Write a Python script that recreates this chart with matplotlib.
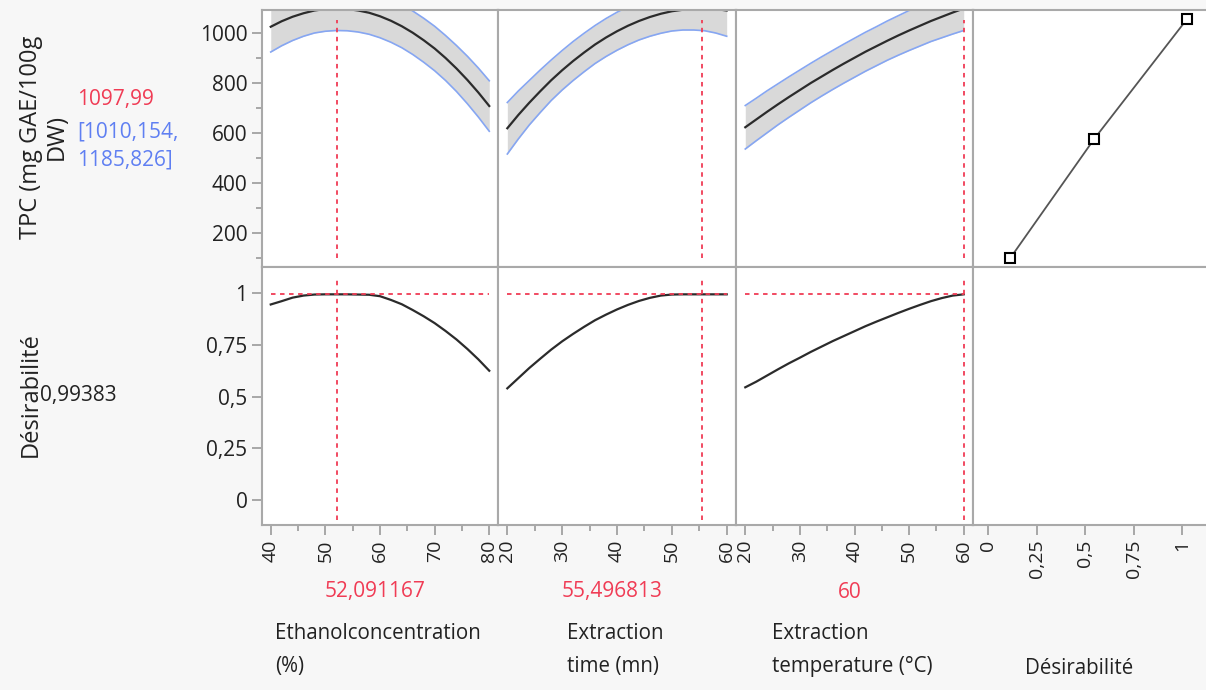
import matplotlib
matplotlib.use("Agg")
import matplotlib.pyplot as plt
from matplotlib.ticker import FixedLocator, FixedFormatter

plt.rcParams['font.family'] = ['Open Sans', 'DejaVu Sans']

eth_x = [40, 42, 44, 46, 48, 50, 52, 54, 56, 58, 60, 62, 64, 66, 68, 70, 72, 74, 76, 78, 80]
eth_tpc = [1025, 1047, 1065, 1079, 1090, 1096, 1098, 1096, 1090, 1081, 1067, 1049, 1027, 1001, 971, 938, 900, 858, 812, 762, 708]
eth_lo = [924, 949, 970, 987, 1000, 1007, 1010, 1009, 1004, 995, 981, 963, 941, 914, 883, 849, 810, 766, 717, 664, 607]
eth_hi = [1126, 1145, 1160, 1171, 1180, 1185, 1186, 1183, 1177, 1167, 1153, 1135, 1114, 1088, 1059, 1027, 990, 950, 907, 860, 809]
eth_des = [0.945, 0.961, 0.978, 0.988, 0.993, 0.994, 0.994, 0.994, 0.993, 0.992, 0.985, 0.967, 0.946, 0.918, 0.888, 0.855, 0.817, 0.776, 0.730, 0.680, 0.625]

time_x = [20, 22, 24, 26, 28, 30, 32, 34, 36, 38, 40, 42, 44, 46, 48, 50, 52, 54, 56, 58, 60]
time_tpc = [619, 672, 721, 767, 811, 851, 888, 922, 954, 982, 1007, 1029, 1048, 1064, 1077, 1087, 1093, 1097, 1098, 1096, 1090]
time_lo = [516, 576, 632, 682, 730, 772, 810, 845, 878, 906, 931, 953, 972, 987, 999, 1008, 1012, 1012, 1009, 1000, 987]
time_hi = [722, 768, 810, 852, 892, 930, 966, 999, 1030, 1058, 1083, 1105, 1124, 1141, 1155, 1166, 1174, 1182, 1187, 1192, 1193]
time_des = [0.540, 0.589, 0.638, 0.683, 0.727, 0.767, 0.803, 0.837, 0.869, 0.896, 0.921, 0.943, 0.962, 0.977, 0.988, 0.993, 0.994, 0.994, 0.994, 0.994, 0.994]

temp_x = [20, 22, 24, 26, 28, 30, 32, 34, 36, 38, 40, 42, 44, 46, 48, 50, 52, 54, 56, 58, 60]
temp_tpc = [623, 654, 685, 715, 744, 772, 800, 826, 852, 877, 901, 925, 947, 969, 990, 1010, 1029, 1048, 1065, 1082, 1098]
temp_lo = [536, 569, 601, 633, 663, 692, 721, 748, 774, 799, 823, 847, 869, 891, 911, 930, 948, 966, 981, 996, 1010]
temp_hi = [710, 739, 769, 797, 825, 852, 879, 905, 930, 955, 979, 1003, 1025, 1048, 1069, 1090, 1110, 1130, 1149, 1168, 1186]
temp_des = [0.545, 0.572, 0.602, 0.632, 0.661, 0.688, 0.716, 0.742, 0.768, 0.792, 0.816, 0.840, 0.862, 0.883, 0.904, 0.924, 0.943, 0.961, 0.976, 0.988, 0.994]

# desirability function (right column)
dfun_d = [0.112, 0.546, 1.025]
dfun_tpc = [99, 576, 1055]

# current settings
cur_x = [52.091167, 55.496813, 60]
cur_labels = ['52,091167', '55,496813', '60']
cur_des = 0.99383

factor_names = ['Ethanolconcentration\n(%)', 'Extraction\ntime (mn)', 'Extraction\ntemperature (°C)', 'Désirabilité']
xlims = [(38.4, 81.6), (18.3, 61.7), (18.3, 61.7), (-0.08, 1.16)]
xmajor = [[40, 50, 60, 70, 80], [20, 30, 40, 50, 60], [20, 30, 40, 50, 60], [0, 0.25, 0.5, 0.75, 1]]
xmajor_lbl = [['40', '50', '60', '70', '80'], ['20', '30', '40', '50', '60'],
              ['20', '30', '40', '50', '60'], ['0', '0,25', '0,5', '0,75', '1']]
xminor = [[45, 55, 65, 75], [25, 35, 45, 55], [25, 35, 45, 55], []]

tpc_ticks = [200, 400, 600, 800, 1000]
tpc_minor = [100, 300, 500, 700, 900]
des_ticks = [0, 0.25, 0.5, 0.75, 1]
des_lbl = ['0', '0,25', '0,5', '0,75', '1']

RED = '#f03c55'
BLUE = '#5f7ff2'
EDGE = '#86a6f2'
FILL = '#d9d9d9'
SPINE = '#a9a9a9'
W, H = 1206, 690

fig = plt.figure(figsize=(W / 100, H / 100), dpi=100, facecolor='#f7f7f7')


def box(l, t, w, h):
    return [l / W, 1 - (t + h) / H, w / W, h / H]


col_left = [262, 498, 736, 973]
col_w = [236, 238, 237, 240]
row_top = [10, 267]
row_h = [257, 258]

axes = [[None] * 4 for _ in range(2)]
for r in range(2):
    for c in range(4):
        ax = fig.add_axes(box(col_left[c], row_top[r], col_w[c], row_h[r]))
        ax.set_facecolor('white')
        for s in ax.spines.values():
            s.set_color(SPINE)
            s.set_linewidth(1.5)
        ax.set_xlim(*xlims[c])
        if r == 0:
            ax.set_ylim(64, 1092)
        else:
            ax.set_ylim(-0.12, 1.126)
        ax.tick_params(which='both', direction='out', color='#9a9a9a', width=1.2,
                       labelcolor='#222222', labelsize=15)
        ax.tick_params(axis='x', labelsize=14)
        ax.tick_params(which='major', length=7)
        ax.tick_params(which='minor', length=4)
        if c == 0:
            if r == 0:
                ax.yaxis.set_major_locator(FixedLocator(tpc_ticks))
                ax.yaxis.set_minor_locator(FixedLocator(tpc_minor))
            else:
                ax.yaxis.set_major_locator(FixedLocator(des_ticks))
                ax.yaxis.set_major_formatter(FixedFormatter(des_lbl))
        else:
            ax.set_yticks([])
        if r == 1:
            ax.xaxis.set_major_locator(FixedLocator(xmajor[c]))
            ax.xaxis.set_major_formatter(FixedFormatter(xmajor_lbl[c]))
            ax.xaxis.set_minor_locator(FixedLocator(xminor[c]))
            for lbl in ax.get_xticklabels():
                lbl.set_rotation(90)
        else:
            ax.set_xticks([])
        axes[r][c] = ax

xs = [eth_x, time_x, temp_x]
tpcs = [eth_tpc, time_tpc, temp_tpc]
los = [eth_lo, time_lo, temp_lo]
his = [eth_hi, time_hi, temp_hi]
dess = [eth_des, time_des, temp_des]

for c in range(3):
    ax = axes[0][c]
    ax.fill_between(xs[c], los[c], his[c], color=FILL, lw=0)
    ax.plot(xs[c], los[c], color=EDGE, lw=1.2)
    ax.plot(xs[c], his[c], color=EDGE, lw=1.2)
    ax.plot(xs[c], tpcs[c], color='#2b2b2b', lw=1.6)
    ax.axvline(cur_x[c], ymin=0.035, ymax=0.96, color=RED, lw=1.3, ls=(0, (2.5, 2.5)))

    ax = axes[1][c]
    ax.plot(xs[c], dess[c], color='#2b2b2b', lw=1.6)
    ax.plot([xs[c][0], xs[c][-1]], [cur_des, cur_des], color=RED, lw=1.3, ls=(0, (2.5, 2.5)))
    ax.axvline(cur_x[c], ymin=0.02, ymax=0.955, color=RED, lw=1.3, ls=(0, (2.5, 2.5)))

axes[0][3].plot(dfun_d, dfun_tpc, color='#555555', lw=1.3, marker='s', ms=7,
                mfc='white', mec='black', mew=1.5)

# ---- texts ----
def ftext(x, y, s, **kw):
    return fig.text(x / W, 1 - y / H, s, **kw)


ftext(44, 137, 'TPC (mg GAE/100g\nDW)', rotation=90, ha='center', va='center',
      fontsize=17, color='#222222', linespacing=1.1, multialignment='center')
ftext(77, 100, '1097,99', ha='left', va='center', fontsize=15, color=RED)
ftext(77, 146, '[1010,154,\n1185,826]', ha='left', va='center', fontsize=15,
      color=BLUE, linespacing=1.45)
ftext(31, 395, 'Désirabilité', rotation=90, ha='center', va='center', fontsize=17,
      color='#222222')
ftext(40, 395, '0,99383', ha='left', va='center', fontsize=15, color='#222222')

label_cx = [375, 612, 850]
for c in range(3):
    ftext(label_cx[c], 592, cur_labels[c], ha='center', va='center', fontsize=15, color=RED)

name_x = [275, 567, 772]
for c in range(3):
    ftext(name_x[c], 650, factor_names[c], ha='left', va='center', fontsize=14.8,
          color='#222222', linespacing=1.7)
ftext(1025, 669, factor_names[3], ha='left', va='center', fontsize=14.8, color='#222222')

fig.savefig('out.png', dpi=100, facecolor=fig.get_facecolor())
